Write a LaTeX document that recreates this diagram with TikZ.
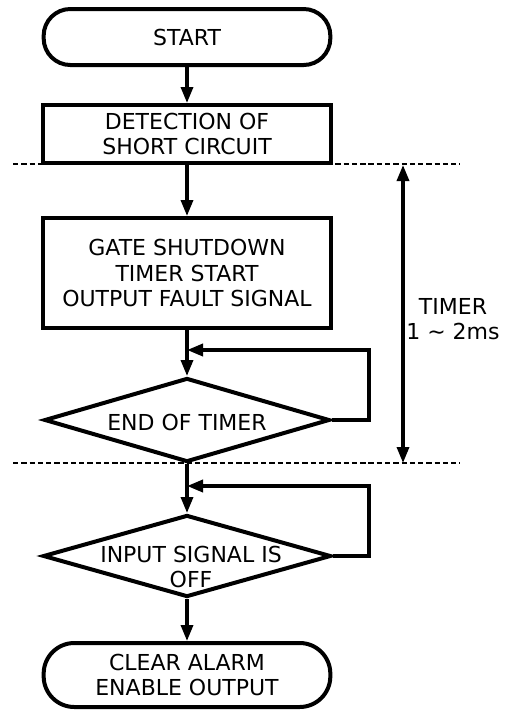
\documentclass[tikz,border=0pt]{standalone}
\usepackage{fontspec}
\setmainfont{DejaVu Sans}
\usetikzlibrary{shapes.geometric,arrows.meta}
\begin{document}
\begin{tikzpicture}[x=0.75pt,y=-0.75pt,
  every node/.style={font=\fontsize{16.5}{19}\selectfont, align=center},
  term/.style={draw, line width=3pt, rounded corners=20pt, minimum width=215pt, inner sep=0pt},
  proc/.style={draw, line width=3pt, minimum width=216pt, inner sep=0pt},
  dec/.style={draw, diamond, line width=3pt, inner sep=0pt},
  lbl/.style={inner sep=0pt},
  conn/.style={line width=2.5pt, -{Triangle[length=12pt,width=9pt]}},
  loopline/.style={line width=2.7pt, -{Triangle[length=12pt,width=9pt]}},
  sep/.style={line width=0.8pt, dash pattern=on 4pt off 2.2pt},
  dim/.style={line width=2.5pt, {Triangle[length=12pt,width=9pt]}-{Triangle[length=12pt,width=9pt]}}
]
\useasboundingbox (0,0) rectangle (514,711);

% nodes
\node[term, minimum height=42pt] (start) at (187,37) {START};
\node[proc, minimum height=43.5pt] (det) at (187,134) {DETECTION OF\\SHORT CIRCUIT};
\node[proc, minimum height=82.5pt] (gate) at (187,273) {GATE SHUTDOWN\\TIMER START\\OUTPUT FAULT SIGNAL};
\node[dec, minimum width=214pt, minimum height=63pt] (d1) at (187,420) {};
\node[lbl] (d1t) at (187,422) {END OF TIMER};
\node[dec, minimum width=216pt, minimum height=61.5pt] (d2) at (187,556) {};
\node[lbl] (d2t) at (191,567) {INPUT SIGNAL IS\\OFF};
\node[term, minimum height=48pt, rounded corners=23pt] (end) at (187,675) {CLEAR ALARM\\ENABLE OUTPUT};

% separators
\coordinate (s1a) at (13,164);
\coordinate (s1b) at (460,164);
\coordinate (s2a) at (13,463);
\coordinate (s2b) at (460,463);
\draw[sep] (s1a) -- (s1b);
\draw[sep] (s2a) -- (s2b);

% main flow
\draw[conn] (start.south) -- (det.north);
\draw[conn] (det.south) -- (gate.north);
\draw[conn] (gate.south) -- (d1.north);
\draw[conn] (d1.south) -- (d2.north);
\draw[conn] (d2.south) -- (end.north);

% loops
\coordinate (j1) at (187,350);
\coordinate (j2) at (187,486);
\draw[loopline] (d1.east) -- (369,420) -- (369,350) -- (j1);
\draw[loopline] (d2.east) -- (369,556) -- (369,486) -- (j2);

% timer
\coordinate (t1) at (403,165);
\coordinate (t2) at (403,463);
\draw[dim] (t1) -- (t2);
\node[lbl] (timer) at (453,319) {TIMER\\1 \textasciitilde{} 2ms};
\end{tikzpicture}
\end{document}
